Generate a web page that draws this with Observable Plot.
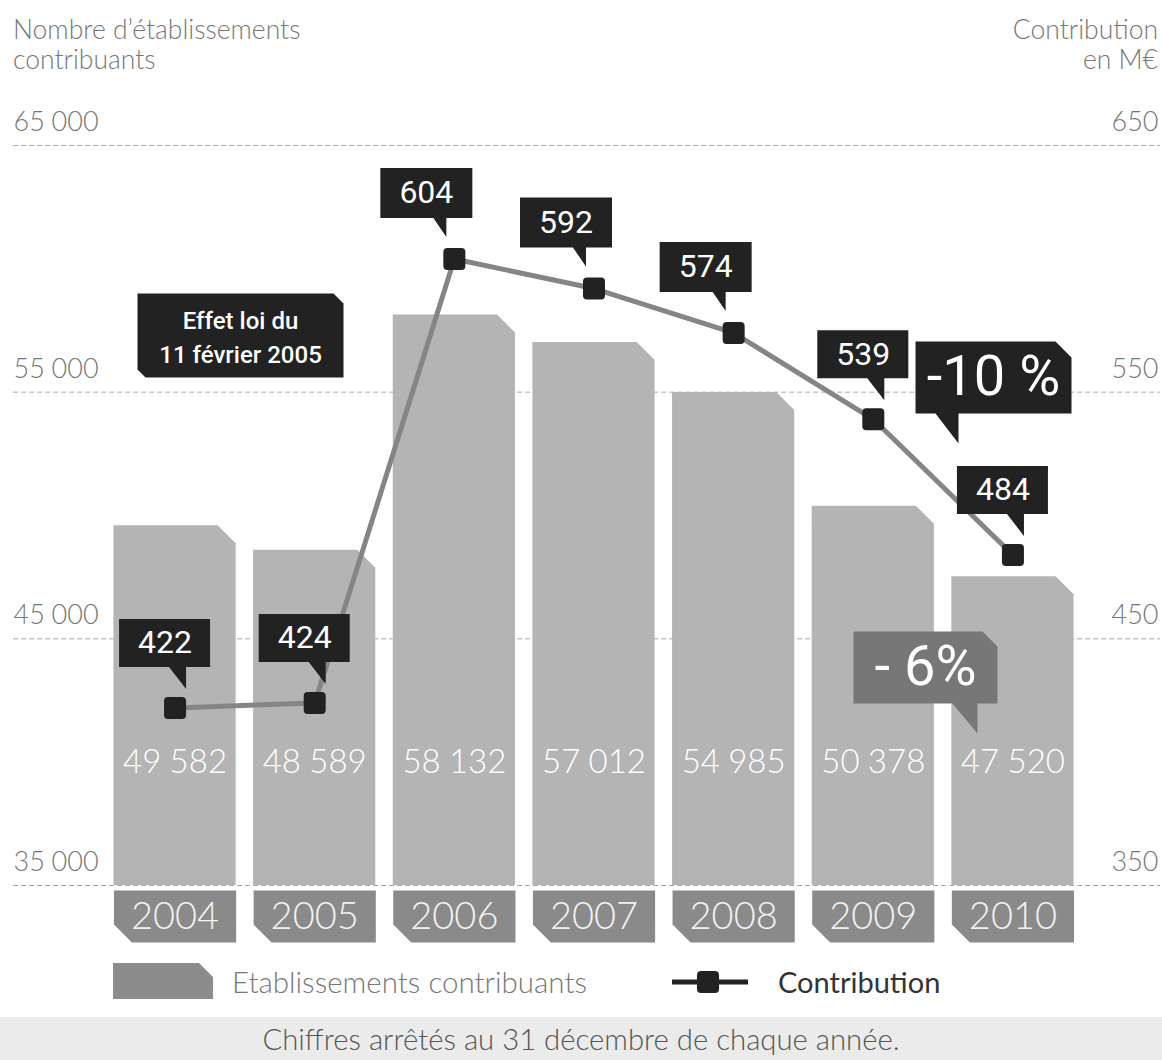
<!DOCTYPE html>
<html><head><meta charset="utf-8">
<script src="https://cdn.jsdelivr.net/npm/d3@7"></script>
<script src="https://cdn.jsdelivr.net/npm/@observablehq/plot@0.6"></script>
<style>
body{margin:0;background:#fff;font-family:Lato,"Open Sans",sans-serif;}
#wrap{position:relative;width:1162px;height:1060px;overflow:hidden;background:#fff;}
.hd{position:absolute;color:#777;font-size:26.5px;font-weight:300;line-height:30px;}
.lg{position:absolute;font-size:29.5px;line-height:40px;top:962px;}
</style></head><body><div id="wrap">
<div class="hd" style="left:13px;top:14px">Nombre d’établissements<br>contribuants</div>
<div class="hd" style="right:4px;top:14px;text-align:right">Contribution<br>en M€</div>
<div id="chart" style="position:absolute;left:0;top:85px"></div>
<svg style="position:absolute;left:113px;top:963px" width="100" height="36"><path d="M0,0H86L100,14V36H0Z" fill="#8c8c8c"/></svg>
<div class="lg" style="left:232px;color:#777;font-weight:300">Etablissements contribuants</div>
<svg style="position:absolute;left:672px;top:970px" width="76" height="24"><line x1="0" x2="76" y1="12" y2="12" stroke="#222" stroke-width="5"/><rect x="25" y="1" width="22" height="22" rx="4" fill="#222"/></svg>
<div class="lg" style="left:778px;color:#333;font-weight:400;font-size:29px">Contribution</div>
<div style="position:absolute;left:0;top:1017px;width:1162px;height:43px;background:#ebebeb;text-align:center;font-size:29.3px;color:#555;line-height:43px;font-weight:300">Chiffres arrêtés au 31 décembre de chaque année.</div>
</div>
<script>
const years = ["2004","2005","2006","2007","2008","2009","2010"];
const etablissements = [49582, 48589, 58132, 57012, 54985, 50378, 47520];
const contribution = [422, 424, 604, 592, 574, 539, 484];
const leftTicks = [35000, 45000, 55000, 65000];
const rightTicks = [350, 450, 550, 650];

const data = years.map((year, i) => ({year, etab: etablissements[i], contrib: contribution[i], i}));

const W = 1162, H = 870, ML = 96, MR = 71, MT = 60, MB = 70, PAD = 0.125;
const step = (W - ML - MR) / (years.length + PAD);
const hw = step * (1 - PAD) / 2;
const Y0 = leftTicks[0], Y1 = leftTicks[leftTicks.length - 1];
const toY = d3.scaleLinear().domain([rightTicks[0], rightTicks[rightTicks.length - 1]]).range([Y0, Y1]);
const fmt = d3.formatLocale({thousands: "\u202f", grouping: [3], decimal: ",", currency: ["", "€"]}).format(",d");

const poly = pts => ({draw(ctx) { ctx.moveTo(pts[0][0], pts[0][1]); for (const p of pts.slice(1)) ctx.lineTo(p[0], p[1]); ctx.closePath(); }});
const marker = {draw(ctx) { const s = 11, r = 4;
  ctx.moveTo(-s + r, -s); ctx.lineTo(s - r, -s); ctx.arcTo(s, -s, s, -s + r, r);
  ctx.lineTo(s, s - r); ctx.arcTo(s, s, s - r, s, r); ctx.lineTo(-s + r, s); ctx.arcTo(-s, s, -s, s - r, r);
  ctx.lineTo(-s, -s + r); ctx.arcTo(-s, -s, -s + r, -s, r); ctx.closePath(); }};
const calloutA = poly([[-56,-89],[35,-89],[35,-41],[11,-41],[11,-19],[-6,-41],[-56,-41]]);
const calloutB = poly([[-74,-91],[18,-91],[18,-41],[-8,-41],[-8,-22],[-21,-41],[-74,-41]]);
const yearBox = poly([[-hw,5],[hw,5],[hw,57],[-hw+18,57],[-hw,39]]);
const effetBox = poly([[-103,-42],[93,-42],[103,-32],[103,42],[-95,42],[-103,34]]);
const tenBox = poly([[-78,-36],[62,-36],[78,-20],[78,36],[-35,36],[-35,66],[-58,36],[-78,36]]);
const sixBox = poly([[-72,-36],[57,-36],[72,-21],[72,36],[52,36],[52,66],[27,36],[-72,36]]);

const isB = d => d.i >= 2 && d.i <= 4;
const cy = d => toY(d.contrib);
const mid = {textAnchor: "middle", lineAnchor: "middle"};

const chart = Plot.plot({
  width: W, height: H, marginLeft: ML, marginRight: MR, marginTop: MT, marginBottom: MB,
  style: {fontFamily: "Lato, sans-serif", background: "transparent", overflow: "visible"},
  x: {type: "band", domain: years, padding: PAD, round: false, axis: null},
  y: {domain: [Y0, Y1], axis: null},
  marks: [
    Plot.ruleY(leftTicks, {y: d => d, stroke: "#ababab", strokeWidth: 1, strokeDasharray: "5,3", insetLeft: -83, insetRight: -69}),
    Plot.barY(data, {x: "year", y1: () => Y0, y2: "etab", fill: "#b4b4b4"}),
    Plot.text(data, {x: "year", frameAnchor: "bottom", dy: -123, ...mid, text: d => fmt(d.etab), fill: "#fff", fontSize: 33, fontWeight: 300}),
    Plot.dot(data, {x: "year", frameAnchor: "bottom", symbol: yearBox, fill: "#8a8a8a", stroke: "none"}),
    Plot.text(data, {x: "year", frameAnchor: "bottom", dy: 31, ...mid, text: "year", fill: "#f2f2f2", fontSize: 38, fontWeight: 300}),
    Plot.line(data, {x: "year", y: cy, stroke: "#858585", strokeWidth: 5}),
    Plot.dot(data, {x: "year", y: cy, symbol: marker, fill: "#222", stroke: "none"}),
    Plot.dot(data.filter(d => !isB(d)), {x: "year", y: cy, symbol: calloutA, fill: "#222", stroke: "none"}),
    Plot.text(data.filter(d => !isB(d)), {x: "year", y: cy, dx: -10, dy: -65, ...mid, text: d => String(d.contrib), fill: "#fff", fontSize: 32, fontFamily: "Roboto", fontWeight: 400}),
    Plot.dot(data.filter(isB), {x: "year", y: cy, symbol: calloutB, fill: "#222", stroke: "none"}),
    Plot.text(data.filter(isB), {x: "year", y: cy, dx: -28, dy: -66, ...mid, text: d => String(d.contrib), fill: "#fff", fontSize: 32, fontFamily: "Roboto", fontWeight: 400}),
    Plot.dot([0], {frameAnchor: "top-left", dx: 144, dy: 190, symbol: effetBox, fill: "#222", stroke: "none"}),
    Plot.text([0], {frameAnchor: "top-left", dx: 144, dy: 190, ...mid, text: () => "Effet loi du\n11 février 2005", lineHeight: 1.4, fill: "#fff", fontSize: 24, fontFamily: "Roboto", fontWeight: 500}),
    Plot.dot([0], {frameAnchor: "top-right", dx: -98, dy: 232, symbol: tenBox, fill: "#222", stroke: "none"}),
    Plot.text([0], {frameAnchor: "top-right", dx: -98, dy: 232, ...mid, text: () => "-10 %", fill: "#fff", fontSize: 56, fontFamily: "Roboto", fontWeight: 400}),
    Plot.dot([0], {frameAnchor: "bottom-right", dx: -166, dy: -218, symbol: sixBox, fill: "#777", stroke: "none"}),
    Plot.text([0], {frameAnchor: "bottom-right", dx: -166, dy: -218, ...mid, text: () => "- 6%", fill: "#fff", fontSize: 56, fontFamily: "Roboto", fontWeight: 400}),
    Plot.text(leftTicks, {y: d => d, text: d => fmt(d), frameAnchor: "left", dx: -83, dy: -23, textAnchor: "start", lineAnchor: "middle", fill: "#777", fontSize: 27, fontWeight: 300}),
    Plot.text(rightTicks, {y: d => toY(d), text: d => String(d), frameAnchor: "right", dx: 67, dy: -23, textAnchor: "end", lineAnchor: "middle", fill: "#777", fontSize: 27, fontWeight: 300})
  ]
});

// chamfer the top-right corner of each bar
const barG = chart.querySelector('g[aria-label="bar"]');
if (barG) {
  barG.querySelectorAll("rect").forEach(r => {
    const x = +r.getAttribute("x"), y = +r.getAttribute("y"), w = +r.getAttribute("width"), h = +r.getAttribute("height");
    const c = 18;
    const p = document.createElementNS("http://www.w3.org/2000/svg", "path");
    p.setAttribute("d", `M${x},${y + h}V${y}H${x + w - c}L${x + w},${y + c}V${y + h}Z`);
    for (const a of ["fill", "transform"]) if (r.getAttribute(a)) p.setAttribute(a, r.getAttribute(a));
    r.replaceWith(p);
  });
}
document.getElementById("chart").appendChild(chart);
</script>
</body></html>
